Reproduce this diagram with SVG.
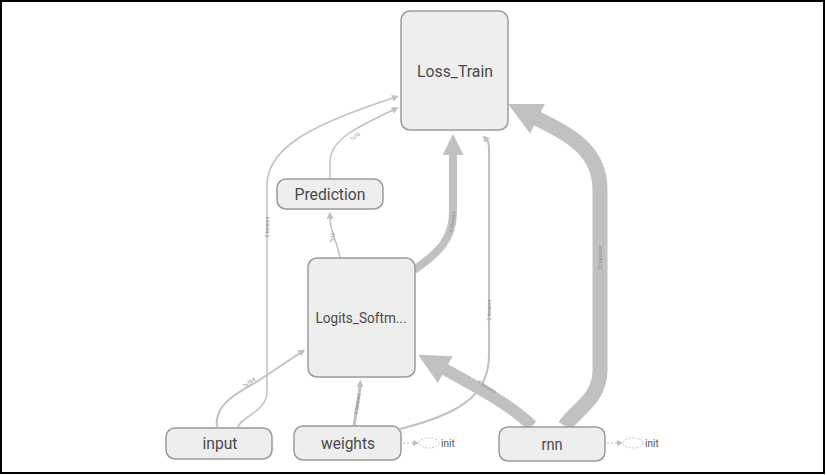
<svg xmlns="http://www.w3.org/2000/svg" width="826" height="475" viewBox="0 0 826 475">
<style>
.node rect{fill:#eeeeee;stroke:#9a9a9a;stroke-width:1.5}
.node text{font-family:Roboto,"Liberation Sans",sans-serif;fill:#4a4a4a;text-anchor:middle}
.edge{fill:none;stroke:#c1c1c1;stroke-linecap:butt}
.lbl{font-family:Roboto,"Liberation Sans",sans-serif;font-size:5px;fill:#8a8a8a;text-anchor:middle}
.init text{font-family:Roboto,"Liberation Sans",sans-serif;font-size:10px;fill:#555}
</style>
<defs>
<marker id="mThin" markerUnits="userSpaceOnUse" viewBox="0 0 10 10" refX="1" refY="5" markerWidth="8" markerHeight="7" orient="auto"><path d="M0,0 L10,5 L0,10 z" fill="#c1c1c1"/></marker>
<marker id="mW8" markerUnits="userSpaceOnUse" viewBox="0 0 10 10" refX="0.5" refY="5" markerWidth="24" markerHeight="21" orient="auto"><path d="M0,0 L10,5 L0,10 z" fill="#c1c1c1"/></marker>
<marker id="mW12" markerUnits="userSpaceOnUse" viewBox="0 0 10 10" refX="0.5" refY="5" markerWidth="31" markerHeight="32" orient="auto"><path d="M0,0 L10,5 L0,10 z" fill="#c1c1c1"/></marker>
<marker id="mW15" markerUnits="userSpaceOnUse" viewBox="0 0 10 10" refX="0.5" refY="5" markerWidth="33" markerHeight="34" orient="auto"><path d="M0,0 L10,5 L0,10 z" fill="#c1c1c1"/></marker>
<marker id="mInit" markerUnits="userSpaceOnUse" viewBox="0 0 10 10" refX="0" refY="5" markerWidth="6" markerHeight="6" orient="auto"><path d="M0,0 L10,5 L0,10 z" fill="#bdbdbd"/></marker>
</defs>
<rect x="1" y="1" width="823" height="472" fill="#ffffff" stroke="#000000" stroke-width="2"/>
<g id="connectors">
<path class="edge" stroke-width="1.5" marker-end="url(#mThin)" d="M238,428 C238,418 267,412 267,392 L267,185 C267,145 320,122 393,98"/>
<path class="edge" stroke-width="1.5" marker-end="url(#mThin)" d="M330,179 L330,162 C330,140 355,128 393,110"/>
<path class="edge" stroke-width="1.5" marker-end="url(#mThin)" d="M340,258 C337,240 330,232 330,218"/>
<path class="edge" stroke-width="8" marker-end="url(#mW8)" d="M414,270 C440,252 453,238 453,212 L453,154"/>
<path class="edge" stroke-width="2" marker-end="url(#mThin)" d="M400,429 C455,415 489,398 489,355 L489,150 C489,143 488,141 487,140"/>
<path class="edge" stroke-width="3" marker-end="url(#mThin)" d="M354,426 C356,412 359,398 360,386"/>
<path class="edge" stroke-width="2" marker-end="url(#mThin)" d="M217,427 C214,405 235,394 258,381 L300,353"/>
<path class="edge" stroke-width="12" marker-end="url(#mW12)" d="M532,426 C512,406 482,390 444,369"/>
<path class="edge" stroke-width="15" marker-end="url(#mW15)" d="M565,426 C575,410 600,400 600,370 L600,190 C600,150 570,135 536,118"/>
<text class="lbl" transform="translate(269,227) rotate(-90)">2 tensors</text>
<text class="lbl" transform="translate(356,138) rotate(-35)">?x10</text>
<text class="lbl" transform="translate(334,238) rotate(-78)">?x10</text>
<text class="lbl" transform="translate(454,222) rotate(-80)">6 tensors</text>
<text class="lbl" transform="translate(491,310) rotate(-90)">2 tensors</text>
<text class="lbl" transform="translate(359,404) rotate(-80)">2 tensors</text>
<text class="lbl" transform="translate(250,384) rotate(-34)">?x784</text>
<text class="lbl" transform="translate(486,388) rotate(33)">4 tensors</text>
<text class="lbl" transform="translate(602,258) rotate(-90)">32 tensors</text>
</g>
<g id="Loss_Train" class="node">
<rect x="401" y="11" width="107" height="119" rx="9"/>
<text x="455" y="77" font-size="17" textLength="76" lengthAdjust="spacingAndGlyphs">Loss_Train</text>
</g>
<g id="Prediction" class="node">
<rect x="277" y="179" width="106" height="30" rx="9"/>
<text x="330" y="200" font-size="17" textLength="71" lengthAdjust="spacingAndGlyphs">Prediction</text>
</g>
<g id="Logits_Softmax" class="node">
<rect x="308" y="258" width="107" height="119" rx="9"/>
<text x="361" y="323" font-size="15" textLength="91" lengthAdjust="spacingAndGlyphs">Logits_Softm...</text>
</g>
<g id="input" class="node">
<rect x="166" y="428" width="106" height="31" rx="9"/>
<text x="220" y="449" font-size="17" textLength="35" lengthAdjust="spacingAndGlyphs">input</text>
</g>
<g id="weights" class="node">
<rect x="294" y="426" width="107" height="34" rx="9"/>
<text x="348" y="449" font-size="17" textLength="54" lengthAdjust="spacingAndGlyphs">weights</text>
</g>
<g id="rnn" class="node">
<rect x="499" y="427" width="106" height="34" rx="9"/>
<text x="552" y="450" font-size="17" textLength="21" lengthAdjust="spacingAndGlyphs">rnn</text>
</g>
<g id="weights_init" class="init">
<path d="M403,443 L413,443" stroke="#bdbdbd" stroke-width="1" stroke-dasharray="2,2" marker-end="url(#mInit)" fill="none"/>
<ellipse cx="429" cy="443" rx="10" ry="5" fill="none" stroke="#c8c8c8" stroke-width="1" stroke-dasharray="2,1.5"/>
<text x="441" y="447">init</text>
</g>
<g id="rnn_init" class="init">
<path d="M607,443 L617,443" stroke="#bdbdbd" stroke-width="1" stroke-dasharray="2,2" marker-end="url(#mInit)" fill="none"/>
<ellipse cx="633" cy="443" rx="10" ry="5" fill="none" stroke="#c8c8c8" stroke-width="1" stroke-dasharray="2,1.5"/>
<text x="645" y="447">init</text>
</g>
</svg>
